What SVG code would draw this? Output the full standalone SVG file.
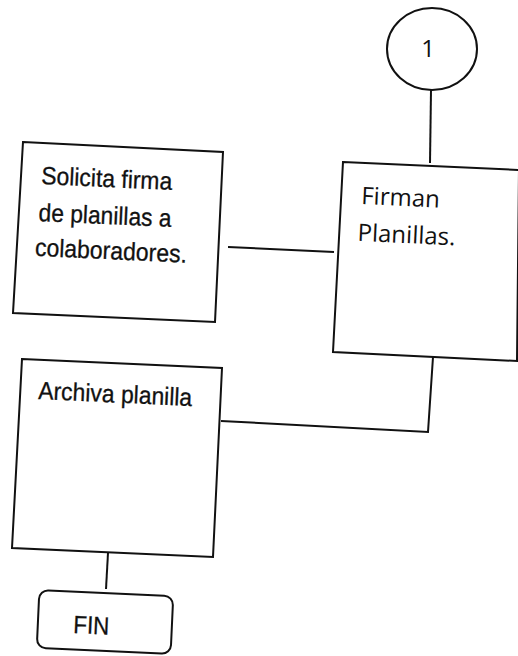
<svg xmlns="http://www.w3.org/2000/svg" width="518" height="656" viewBox="0 0 518 656">
<style>
.shape{fill:#fff;stroke:#111;stroke-width:2;stroke-linejoin:miter}
.line{fill:none;stroke:#111;stroke-width:2}
.narrow{font-family:"Liberation Sans",Arial,sans-serif;font-size:25px;fill:#111;stroke:#111;stroke-width:0.3}
.calib{font-family:"Open Sans","Noto Sans",sans-serif;font-size:24px;fill:#111}
</style>
<rect width="518" height="656" fill="#fff"/>
<g id="connectors">
<line class="line" x1="431" y1="90" x2="430" y2="163"/>
<line class="line" x1="228" y1="247" x2="334" y2="252"/>
<polyline class="line" points="433,357 428,432 221,421"/>
<line class="line" x1="108" y1="553" x2="106" y2="589"/>
</g>
<g id="node-1">
<ellipse class="shape" cx="432" cy="49" rx="45" ry="41"/>
<text class="calib" x="428" y="57" text-anchor="middle" font-size="25">1</text>
</g>
<g id="node-solicita">
<polygon class="shape" points="23,142 223,152 215,322 13,313"/>
<g transform="rotate(2.6 41 184)">
<text class="narrow" x="41" y="184" textLength="131" lengthAdjust="spacingAndGlyphs">Solicita firma</text>
<text class="narrow" x="40" y="221" textLength="133" lengthAdjust="spacingAndGlyphs">de planillas a</text>
<text class="narrow" x="38" y="256" textLength="152" lengthAdjust="spacingAndGlyphs">colaboradores.</text>
</g>
</g>
<g id="node-firman">
<polygon class="shape" points="343,162 519,170 517,361 333,352"/>
<g transform="rotate(2.6 361 204)">
<text class="calib" x="361" y="204">Firman</text>
<text class="calib" x="359" y="241">Planillas.</text>
</g>
</g>
<g id="node-archiva">
<polygon class="shape" points="22,359 222,368 213,557 12,548"/>
<text class="narrow" x="38" y="399" textLength="154" lengthAdjust="spacingAndGlyphs" transform="rotate(2.6 38 399)">Archiva planilla</text>
</g>
<g id="node-fin">
<rect class="shape" x="38" y="593" width="134" height="58" rx="9" transform="rotate(2.6 105 622)"/>
<text class="narrow" x="73" y="633" font-size="26" textLength="36" lengthAdjust="spacingAndGlyphs" transform="rotate(2.6 73 633)">FIN</text>
</g>
</svg>
